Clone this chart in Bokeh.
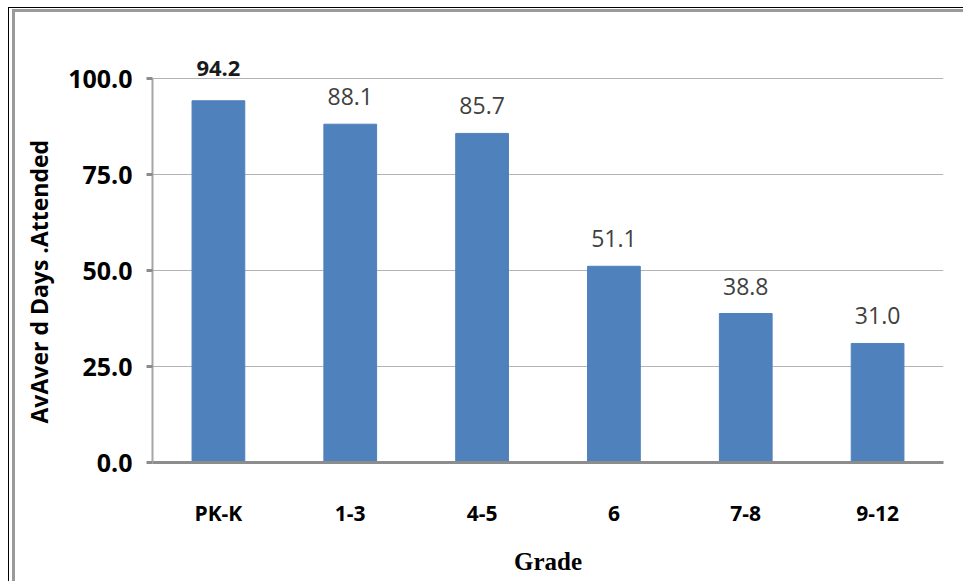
from bokeh.plotting import figure
from bokeh.models import (ColumnDataSource, LabelSet, FixedTicker, NumeralTickFormatter,
                          Range1d, Title)
from bokeh.core.properties import value
from bokeh.embed import file_html
from bokeh.resources import INLINE

# Average days attended by grade band
grades = ["PK-K", "1-3", "4-5", "6", "7-8", "9-12"]
days = [94.2, 88.1, 85.7, 51.1, 38.8, 31.0]
y_ticks = [0, 25, 50, 75, 100]

BAR = "#4f81bd"

src = ColumnDataSource(dict(grade=grades, days=days,
                            label=[f"{d:.1f}" for d in days]))
first = ColumnDataSource(dict(grade=grades[:1], days=days[:1],
                              label=[f"{d:.1f}" for d in days[:1]]))
rest = ColumnDataSource(dict(grade=grades[1:], days=days[1:],
                             label=[f"{d:.1f}" for d in days[1:]]))

p = figure(width=955, height=574, x_range=grades, y_range=Range1d(0, 112.5),
           output_backend="svg", toolbar_location=None,
           min_border_left=143, min_border_right=21,
           min_border_top=22, min_border_bottom=120)
p.background_fill_color = "white"
p.border_fill_color = None
p.outline_line_color = None
# frame around the chart: thin black edge with a gray band inside it
p.styles = {
    "margin-left": "8px",
    "margin-top": "7px",
    "border-left": "1px solid black",
    "border-top": "1px solid black",
    "box-shadow": "inset 3px 1px 0 0 white, inset 6px 4px 0 0 #9a9a9a",
}

p.vbar(x="grade", top="days", width=0.4, source=src,
       fill_color=BAR, line_color=BAR)

# value labels above bars
p.add_layout(LabelSet(x="grade", y="days", text="label", source=first,
                      y_offset=25, text_align="center", text_baseline="alphabetic",
                      text_font=value("Open Sans"), text_font_size="22px",
                      text_font_style="bold", text_color="#1a1a1a"))
p.add_layout(LabelSet(x="grade", y="days", text="label", source=rest,
                      y_offset=19, text_align="center", text_baseline="alphabetic",
                      text_font=value("Open Sans"), text_font_size="23px",
                      text_color="#404040"))

# grid
p.xgrid.grid_line_color = None
p.ygrid.ticker = FixedTicker(ticks=y_ticks)
p.ygrid.grid_line_color = "#b3b3b3"
p.ygrid.grid_line_width = 1

# y axis
ya = p.yaxis[0]
ya.bounds = (0, 100)
ya.ticker = FixedTicker(ticks=y_ticks)
ya.formatter = NumeralTickFormatter(format="0.0")
ya.axis_line_color = "#a6a6a6"
ya.axis_line_width = 2
ya.major_tick_line_color = "#8c8c8c"
ya.major_tick_line_width = 3
ya.major_tick_out = 6
ya.major_tick_in = 0
ya.minor_tick_line_color = None
ya.major_label_standoff = 14
ya.major_label_text_font = "Open Sans"
ya.major_label_text_font_style = "bold"
ya.major_label_text_font_size = "25px"
ya.major_label_text_color = "black"

ylab = Title(text="AvAver d Days .Attended", align="left", offset=39, standoff=22,
             text_font="Open Sans", text_font_style="bold", text_font_size="23px",
             text_color="black")
p.add_layout(ylab, "left")

# x axis
xa = p.xaxis[0]
xa.axis_line_color = "#8c8c8c"
xa.axis_line_width = 3
xa.major_tick_line_color = None
xa.minor_tick_line_color = None
xa.major_label_standoff = 30
xa.major_label_text_font = "Open Sans"
xa.major_label_text_font_style = "bold"
xa.major_label_text_font_size = "21px"
xa.major_label_text_color = "black"
xa.axis_label = "Grade"
xa.axis_label_text_font = "Liberation Serif"
xa.axis_label_text_font_style = "bold"
xa.axis_label_text_font_size = "25px"
xa.axis_label_text_color = "black"
xa.axis_label_standoff = 18

open("out.html", "w").write(file_html(p, INLINE))
